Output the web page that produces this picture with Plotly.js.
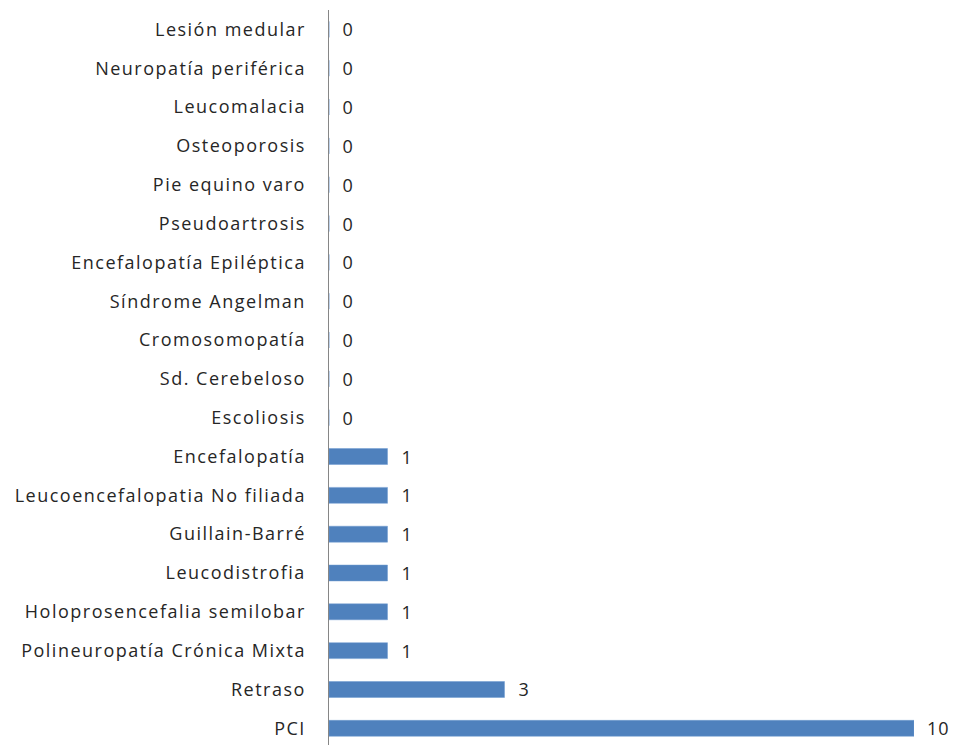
<!DOCTYPE html>
<html>
<head>
<meta charset="utf-8">
<script src="https://cdn.plot.ly/plotly-3.0.1.min.js"></script>
<style>
  html, body { margin: 0; padding: 0; background: #fff; }
  #chart { width: 956px; height: 745px; }
  /* slightly open tracking on the category and value labels */
  #chart .ytick text { letter-spacing: 1.5px; }
  #chart .annotation-text { letter-spacing: 1px; }
</style>
</head>
<body>
<div id="chart"></div>
<script>
// Diagnoses, listed from the bottom bar upwards
const diagnoses = [
  'PCI',
  'Retraso',
  'Polineuropatía Crónica Mixta',
  'Holoprosencefalia semilobar',
  'Leucodistrofia',
  'Guillain-Barré',
  'Leucoencefalopatia No filiada',
  'Encefalopatía',
  'Escoliosis',
  'Sd. Cerebeloso',
  'Cromosomopatía',
  'Síndrome Angelman',
  'Encefalopatía Epiléptica',
  'Pseudoartrosis',
  'Pie equino varo',
  'Osteoporosis',
  'Leucomalacia',
  'Neuropatía periférica',
  'Lesión medular'
];

// Number of patients per diagnosis
const counts = [10, 3, 1, 1, 1, 1, 1, 1, 0, 0, 0, 0, 0, 0, 0, 0, 0, 0, 0];

const textColor = '#262626';
const fontFamily = 'Open Sans, sans-serif';

const bars = {
  type: 'bar',
  orientation: 'h',
  x: counts,
  y: diagnoses,
  marker: { color: '#4F81BD', line: { color: '#6F9AD0', width: 0.5 } },
  hoverinfo: 'x+y'
};

// Value labels to the right of each bar end
const valueLabels = diagnoses.map((d, i) => ({
  x: counts[i],
  y: d,
  xref: 'x',
  yref: 'y',
  text: String(counts[i]),
  showarrow: false,
  xanchor: 'left',
  yanchor: 'middle',
  xshift: 12,
  font: { family: fontFamily, size: 18, color: textColor }
}));

const layout = {
  width: 956,
  height: 745,
  margin: { l: 329, r: 42, t: 10, b: 0 },
  paper_bgcolor: '#ffffff',
  plot_bgcolor: '#ffffff',
  showlegend: false,
  bargap: 0.59,
  xaxis: {
    range: [0, 10],
    showgrid: false,
    zeroline: false,
    showline: false,
    showticklabels: false,
    ticks: ''
  },
  yaxis: {
    type: 'category',
    categoryorder: 'array',
    categoryarray: diagnoses,
    range: [-0.43, 18.5],
    showgrid: false,
    zeroline: false,
    showline: true,
    linecolor: '#868686',
    linewidth: 1.5,
    ticks: 'outside',
    ticklen: 18,
    tickcolor: 'rgba(0,0,0,0)',
    tickfont: { family: fontFamily, size: 18, color: textColor },
    automargin: false
  },
  annotations: valueLabels
};

Plotly.newPlot('chart', [bars], layout, { displayModeBar: false, staticPlot: true });
</script>
</body>
</html>
